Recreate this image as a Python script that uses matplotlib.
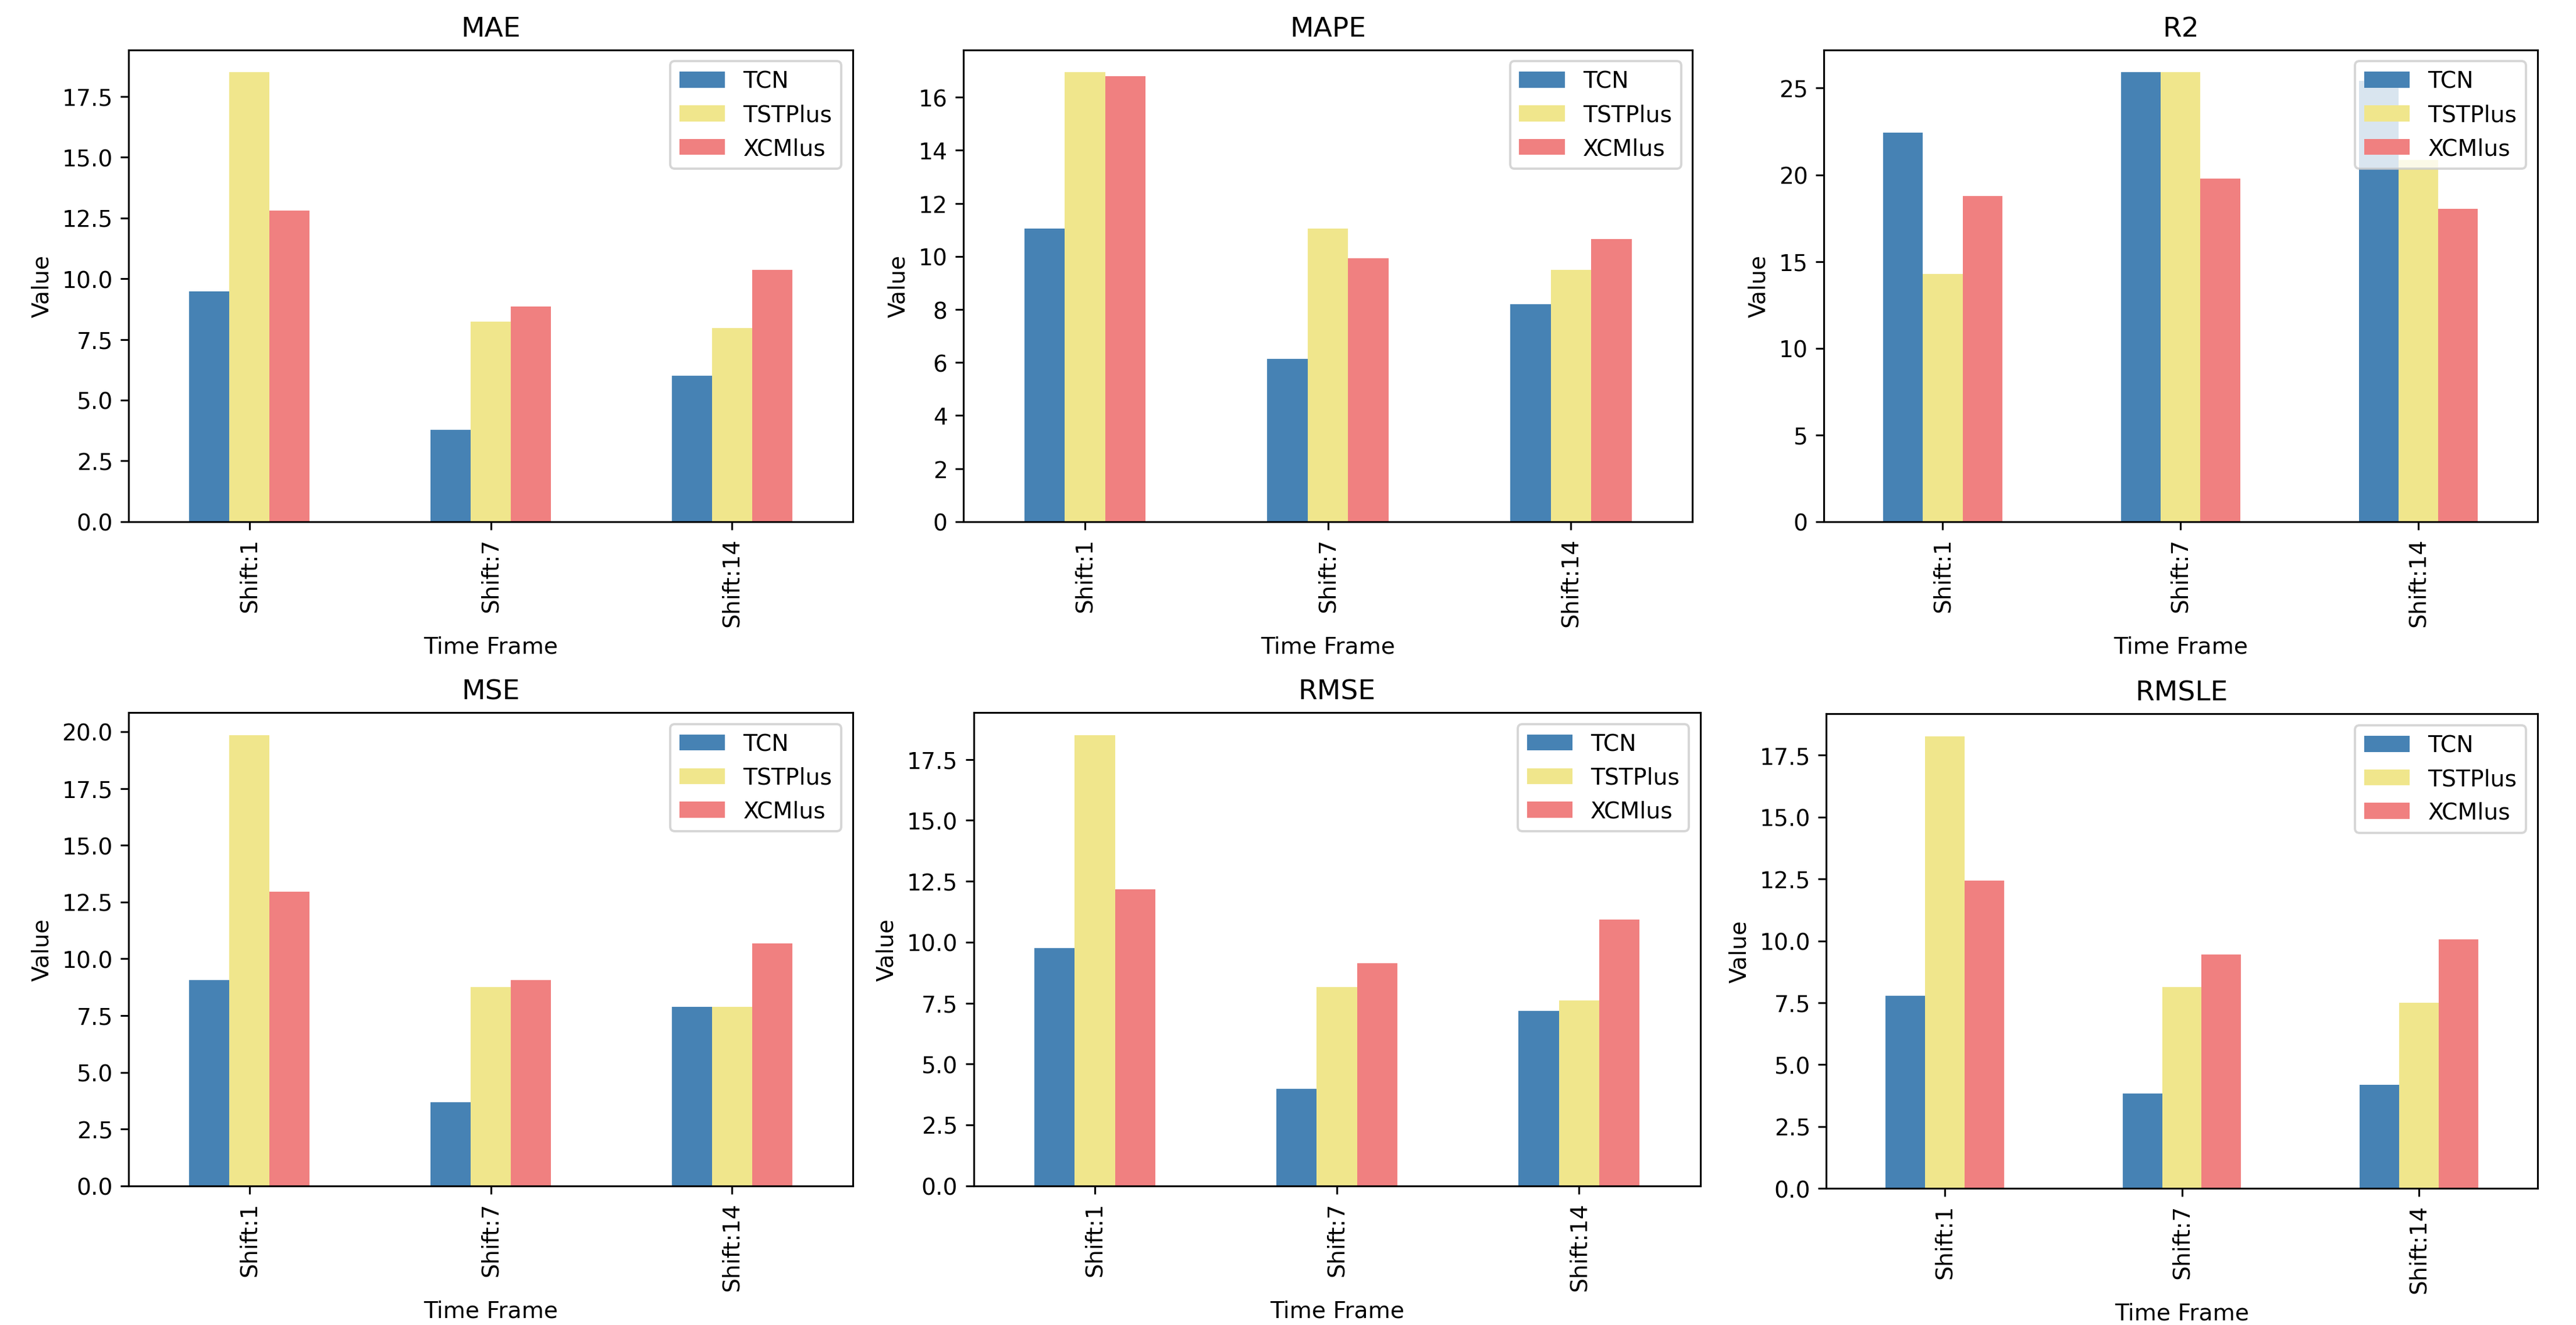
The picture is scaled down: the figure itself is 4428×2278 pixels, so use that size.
import pandas as pd
import matplotlib
matplotlib.use("Agg")
from matplotlib import pyplot as plt

time_frames = ["Shift:1", "Shift:7", "Shift:14"]
models = ["TCN", "TSTPlus", "XCMlus"]
colors = ["steelblue", "khaki", "lightcoral"]

# values, one list per model (Shift:1, Shift:7, Shift:14)
mae = {"TCN": [9.47, 3.77, 6.00], "TSTPlus": [18.49, 8.24, 7.97], "XCMlus": [12.79, 8.86, 10.37]}
mape = {"TCN": [11.05, 6.14, 8.19], "TSTPlus": [16.94, 11.05, 9.50], "XCMlus": [16.79, 9.92, 10.65]}
r2 = {"TCN": [22.43, 25.91, 25.42], "TSTPlus": [14.29, 25.91, 20.87], "XCMlus": [18.79, 19.78, 18.05]}
mse = {"TCN": [9.05, 3.68, 7.89], "TSTPlus": [19.85, 8.76, 7.89], "XCMlus": [12.96, 9.05, 10.67]}
rmse = {"TCN": [9.77, 3.98, 7.18], "TSTPlus": [18.50, 8.17, 7.62], "XCMlus": [12.18, 9.14, 10.93]}
rmsle = {"TCN": [7.77, 3.83, 4.18], "TSTPlus": [18.25, 8.13, 7.51], "XCMlus": [12.44, 9.45, 10.06]}

metrics = [("MAE", mae), ("MAPE", mape), ("R2", r2),
           ("MSE", mse), ("RMSE", rmse), ("RMSLE", rmsle)]

# axes boxes (left, bottom, width, height) in figure fractions
boxes = [[0.050, 0.606, 0.281, 0.356],
         [0.374, 0.606, 0.283, 0.356],
         [0.708, 0.606, 0.277, 0.356],
         [0.050, 0.105, 0.281, 0.357],
         [0.378, 0.105, 0.282, 0.357],
         [0.709, 0.103, 0.276, 0.358]]

fig, axes = plt.subplots(2, 3, figsize=(15.68, 8.07), dpi=282.4)

for k, (name, vals) in enumerate(metrics):
    ax = axes[k // 3][k % 3]
    df = pd.DataFrame(vals, index=time_frames)[models]
    df.plot(kind="bar", ax=ax, color=colors)
    ax.set_title(name)
    ax.set_xlabel("Time Frame")
    ax.set_ylabel("Value")
    ax.legend(loc="upper right")
    ax.set_position(boxes[k])

plt.savefig("out.png", dpi=282.4)
